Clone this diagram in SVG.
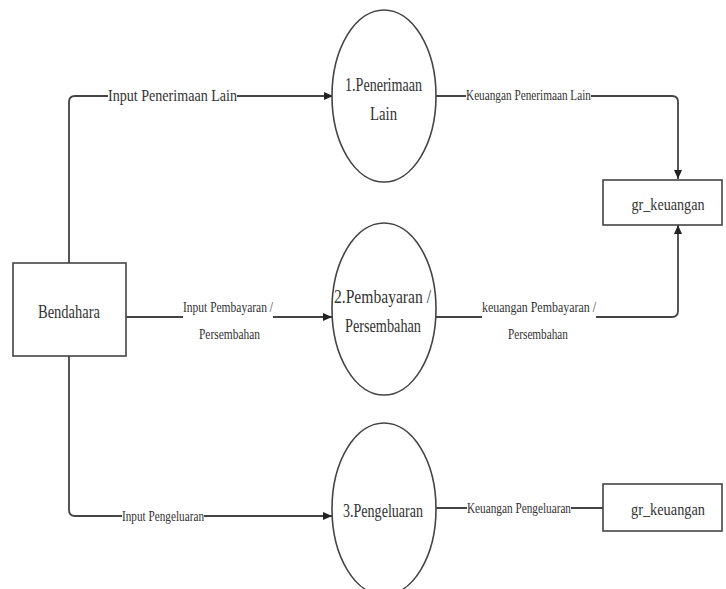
<svg xmlns="http://www.w3.org/2000/svg" width="726" height="589" viewBox="0 0 726 589">
<style>
.shape{fill:#fff;stroke:#444;stroke-width:1.6}
.edge{fill:none;stroke:#444;stroke-width:1.8}
.t{fill:#333;text-anchor:middle}
.n{font-size:19px}
.l{font-size:15px}
.bg{fill:#fff}
</style>
<defs>
<marker id="arr" markerUnits="userSpaceOnUse" markerWidth="10" markerHeight="10" refX="9" refY="5" orient="auto">
<path d="M0,1 L9,5 L0,9 Z" fill="#222"/>
</marker>
</defs>
<rect width="726" height="589" fill="#fff"/>
<g font-family="Liberation Serif, DejaVu Serif, Times New Roman, serif">
<g id="connectors">
<path class="edge" d="M69,263 V102 Q69,96 75,96 H333" marker-end="url(#arr)"/>
<path class="edge" d="M436,96 H672 Q678,96 678,102 V179" marker-end="url(#arr)"/>
<path class="edge" d="M126,317 H332" marker-end="url(#arr)"/>
<path class="edge" d="M436,317 H672 Q678,317 678,311 V225" marker-end="url(#arr)"/>
<path class="edge" d="M69,356 V510 Q69,516 75,516 H332" marker-end="url(#arr)"/>
<path class="edge" d="M436,508 H603"/>
<g id="label-input-penerimaan">
<rect class="bg" x="108" y="88" width="129" height="17"/>
<text class="t" x="172.5" y="101" font-size="17" textLength="129" lengthAdjust="spacingAndGlyphs">Input Penerimaan Lain</text>
</g>
<g id="label-keuangan-penerimaan">
<rect class="bg" x="466" y="89" width="125" height="15"/>
<text class="t l" x="528.5" y="100" textLength="125" lengthAdjust="spacingAndGlyphs">Keuangan Penerimaan Lain</text>
</g>
<g id="label-input-pembayaran">
<rect class="bg" x="183" y="298" width="90" height="46"/>
<text class="t" font-size="14" x="228" y="312" textLength="90" lengthAdjust="spacingAndGlyphs">Input Pembayaran /</text>
<text class="t" font-size="14" x="229.5" y="339" textLength="61" lengthAdjust="spacingAndGlyphs">Persembahan</text>
</g>
<g id="label-keuangan-pembayaran">
<rect class="bg" x="482" y="298" width="114" height="46"/>
<text class="t" font-size="14" x="539" y="312" textLength="114" lengthAdjust="spacingAndGlyphs">keuangan Pembayaran /</text>
<text class="t" font-size="14" x="538" y="339" textLength="60" lengthAdjust="spacingAndGlyphs">Persembahan</text>
</g>
<g id="label-input-pengeluaran">
<rect class="bg" x="122" y="508" width="82" height="17"/>
<text class="t l" x="163" y="521" textLength="82" lengthAdjust="spacingAndGlyphs">Input Pengeluaran</text>
</g>
<g id="label-keuangan-pengeluaran">
<rect class="bg" x="467" y="500" width="104" height="17"/>
<text class="t l" x="519" y="513" textLength="104" lengthAdjust="spacingAndGlyphs">Keuangan Pengeluaran</text>
</g>
</g>
<g id="bendahara">
<rect class="shape" x="13" y="263" width="113" height="93"/>
<text class="t n" x="69" y="318" textLength="62" lengthAdjust="spacingAndGlyphs">Bendahara</text>
</g>
<g id="proses-1">
<ellipse class="shape" cx="384" cy="96" rx="52" ry="86"/>
<text class="t n" x="383.5" y="91" textLength="77" lengthAdjust="spacingAndGlyphs">1.Penerimaan</text>
<text class="t n" x="383.5" y="120" textLength="27" lengthAdjust="spacingAndGlyphs">Lain</text>
</g>
<g id="proses-2">
<ellipse class="shape" cx="384" cy="309" rx="52" ry="86"/>
<text class="t n" x="382.5" y="303" textLength="97" lengthAdjust="spacingAndGlyphs">2.Pembayaran /</text>
<text class="t n" x="383" y="332" textLength="76" lengthAdjust="spacingAndGlyphs">Persembahan</text>
</g>
<g id="proses-3">
<ellipse class="shape" cx="384" cy="509" rx="52" ry="86"/>
<text class="t n" x="383" y="517" textLength="80" lengthAdjust="spacingAndGlyphs">3.Pengeluaran</text>
</g>
<g id="gr-keuangan-1">
<rect class="shape" x="603" y="180" width="119" height="45"/>
<text class="t" font-size="17" x="668" y="210" textLength="73" lengthAdjust="spacingAndGlyphs">gr_keuangan</text>
</g>
<g id="gr-keuangan-2">
<rect class="shape" x="603" y="484" width="119" height="47"/>
<text class="t" font-size="17" x="668" y="515" textLength="74" lengthAdjust="spacingAndGlyphs">gr_keuangan</text>
</g>
</g>
</svg>
